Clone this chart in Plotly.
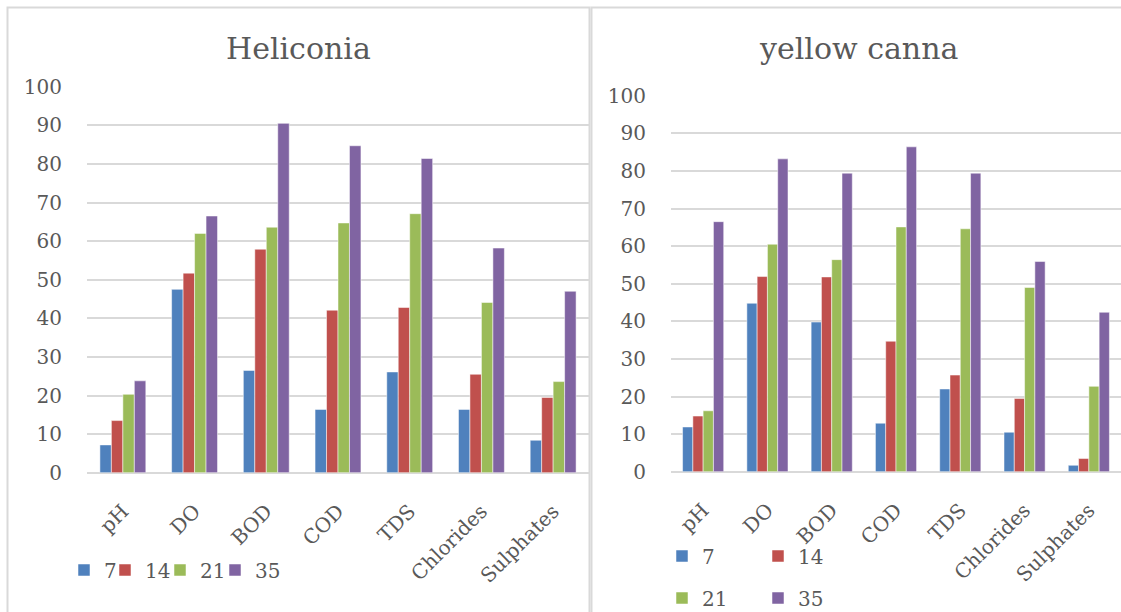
import plotly.graph_objects as go

# Water-quality parameters on the category axis
categories = ["pH", "DO", "BOD", "COD", "TDS", "Chlorides", "Sulphates"]

# Series names (days)
series_names = ["7", "14", "21", "35"]
series_colors = ["#4f81bd", "#c0504d", "#9bbb59", "#8064a2"]

# Heliconia
heliconia_7 = [7.2, 47.5, 26.5, 16.4, 26.1, 16.4, 8.4]
heliconia_14 = [13.5, 51.7, 57.9, 42.1, 42.8, 25.5, 19.5]
heliconia_21 = [20.3, 62.0, 63.6, 64.7, 67.1, 44.1, 23.6]
heliconia_35 = [23.8, 66.5, 90.5, 84.7, 81.4, 58.2, 47.0]

# Yellow canna
canna_7 = [11.9, 44.8, 39.8, 12.9, 22.0, 10.5, 1.7]
canna_14 = [14.8, 51.9, 51.8, 34.7, 25.7, 19.5, 3.5]
canna_21 = [16.2, 60.5, 56.4, 65.1, 64.6, 49.0, 22.7]
canna_35 = [66.5, 83.2, 79.4, 86.4, 79.4, 55.9, 42.4]

y_ticks = [0, 10, 20, 30, 40, 50, 60, 70, 80, 90, 100]

W, H = 1121, 612
FONT = "DejaVu Serif"
TXT = "#595959"
GRID = "#d9d9d9"

def px_x(v):
    return v / W

def px_y(v):
    return 1 - v / H

# one legend box per entry so each key sits where it belongs:
# (left edge of the box in px, vertical centre in px)
left_keys = [(64, 570), (105, 570), (160, 570), (215, 570)]
right_keys = [(662, 556), (758, 556), (662, 598), (758, 598)]

fig = go.Figure()

left_series = [heliconia_7, heliconia_14, heliconia_21, heliconia_35]
right_series = [canna_7, canna_14, canna_21, canna_35]

legend_font = dict(family=FONT, size=20, color=TXT)
legend_layout = {}
k = 0
for xa, ya, series, keys in (("x", "y", left_series, left_keys),
                              ("x2", "y2", right_series, right_keys)):
    for name, color, vals, (lx, ly) in zip(series_names, series_colors, series, keys):
        k += 1
        lid = "legend" if k == 1 else f"legend{k}"
        fig.add_trace(go.Bar(
            x=categories, y=vals, name=name, marker_color=color,
            marker_line=dict(color="rgba(255,255,255,0.5)", width=1),
            xaxis=xa, yaxis=ya, legend=lid, showlegend=True,
        ))
        legend_layout[lid] = dict(
            orientation="h", x=px_x(lx), y=px_y(ly), xanchor="left", yanchor="middle",
            font=legend_font, bgcolor="rgba(0,0,0,0)",
        )

axis_common = dict(
    tickfont=dict(family=FONT, size=20, color=TXT),
    showline=False, ticks="", automargin=False,
)

fig.update_layout(
    width=W, height=H,
    showlegend=True,
    margin=dict(l=0, r=0, t=0, b=0, autoexpand=False),
    paper_bgcolor="white", plot_bgcolor="white",
    barmode="group", bargap=0.36, bargroupgap=0,
    font=dict(family=FONT, color=TXT),
    xaxis=dict(domain=[px_x(87), px_x(589)], anchor="y", type="category",
               tickangle=-45, ticklabelstandoff=22, **axis_common),
    yaxis=dict(domain=[px_y(472.7), px_y(86.7)], anchor="x", range=[0, 100],
               tickvals=y_ticks, showgrid=True, gridcolor=GRID, gridwidth=1.5,
               zeroline=True, zerolinecolor=GRID, zerolinewidth=2,
               ticklabelstandoff=24, **axis_common),
    xaxis2=dict(domain=[px_x(671), 1.0], anchor="y2", type="category",
                tickangle=-45, ticklabelstandoff=22, **axis_common),
    yaxis2=dict(domain=[px_y(471.7), px_y(95.7)], anchor="x2", range=[0, 100],
                tickvals=y_ticks, showgrid=True, gridcolor=GRID, gridwidth=1.5,
                zeroline=True, zerolinecolor=GRID, zerolinewidth=2,
                ticklabelstandoff=24, **axis_common),
    annotations=[
        dict(text="Heliconia", x=px_x(299), y=px_y(49), xref="paper", yref="paper",
             showarrow=False, xanchor="center", yanchor="middle",
             font=dict(family=FONT, size=30, color=TXT)),
        dict(text="yellow canna", x=px_x(858), y=px_y(49), xref="paper", yref="paper",
             showarrow=False, xanchor="center", yanchor="middle",
             font=dict(family=FONT, size=30, color=TXT)),
    ],
    shapes=[
        dict(type="rect", xref="paper", yref="paper",
             x0=px_x(7.5), x1=px_x(589.5), y0=-0.05, y1=px_y(7.5),
             line=dict(color=GRID, width=2), fillcolor="rgba(0,0,0,0)"),
        dict(type="rect", xref="paper", yref="paper",
             x0=px_x(591.5), x1=1.05, y0=-0.05, y1=px_y(7.5),
             line=dict(color=GRID, width=2), fillcolor="rgba(0,0,0,0)"),
    ],
    **legend_layout,
)

fig.write_html("out.html")
